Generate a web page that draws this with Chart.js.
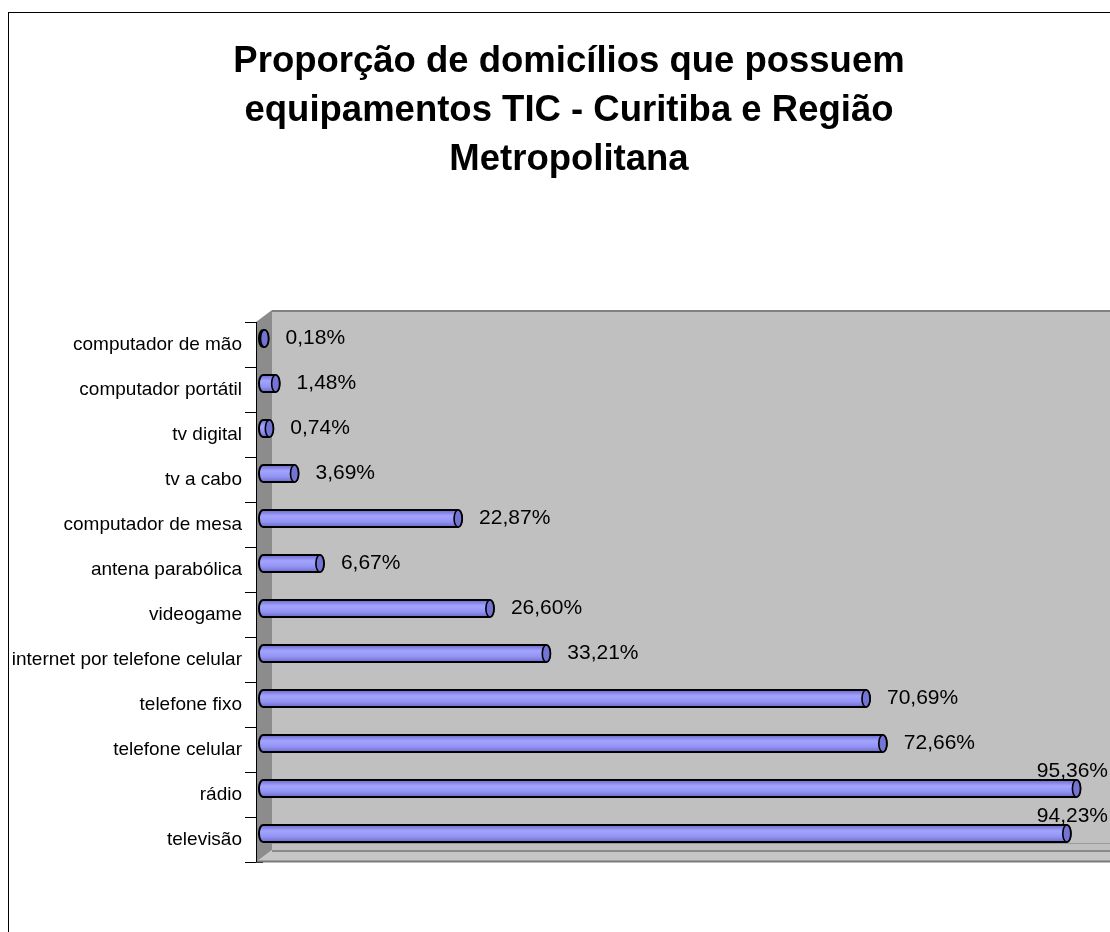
<!DOCTYPE html>
<html>
<head>
<meta charset="utf-8">
<script src="https://cdn.jsdelivr.net/npm/chart.js@4.4.1/dist/chart.umd.min.js"></script>
<style>
    html, body { margin: 0; padding: 0; background: #fff; overflow: hidden; }
    #wrap { position: relative; width: 1140px; height: 932px; }
</style>
</head>
<body>
<div id="wrap"><canvas id="chart"></canvas></div>
<script>
// Chart data
const titleLines = [
    'Proporção de domicílios que possuem',
    'equipamentos TIC - Curitiba e Região',
    'Metropolitana'
];
const categories = [
    'computador de mão',
    'computador portátil',
    'tv digital',
    'tv a cabo',
    'computador de mesa',
    'antena parabólica',
    'videogame',
    'internet por telefone celular',
    'telefone fixo',
    'telefone celular',
    'rádio',
    'televisão'
];
const values = [0.18, 1.48, 0.74, 3.69, 22.87, 6.67, 26.60, 33.21, 70.69, 72.66, 95.36, 94.23];
const xMin = 0;
const xMax = 100;

const FONT = '"Liberation Sans", Arial, sans-serif';
const VIEW_W = 1110;
const BAR_DY = -6;   // bars sit half way into the 3D depth

function fmtPct(v) {
    return v.toFixed(2).replace('.', ',') + '%';
}

// white page + outer frame, title centred on the whole frame
const framePlugin = {
    id: 'frame',
    afterLayout(chart) {
        if (chart.titleBlock) chart.titleBlock.left = 22;
    },
    beforeDraw(chart) {
        const ctx = chart.ctx;
        ctx.save();
        ctx.fillStyle = '#fff';
        ctx.fillRect(0, 0, chart.width, chart.height);
        ctx.strokeStyle = '#000';
        ctx.lineWidth = 1;
        ctx.strokeRect(8.5, 12.5, 2000, 2000);
        ctx.restore();
    }
};

// 3D walls and floor behind the bars
const wallsPlugin = {
    id: 'walls',
    beforeDatasetsDraw(chart) {
        const { ctx, chartArea } = chart;
        const { left, top, bottom } = chartArea;
        const W = chart.width;
        const fx = left - 7, bx = left + 9, d = 12;
        ctx.save();
        // back wall
        ctx.fillStyle = '#c0c0c0';
        ctx.fillRect(bx, top - d, W - bx, bottom - top);
        ctx.strokeStyle = '#808080';
        ctx.lineWidth = 2;
        ctx.beginPath();
        ctx.moveTo(bx, top - d + 1);
        ctx.lineTo(W, top - d + 1);
        ctx.stroke();
        // floor
        ctx.fillStyle = '#c6c6c6';
        ctx.beginPath();
        ctx.moveTo(fx, bottom);
        ctx.lineTo(bx, bottom - d);
        ctx.lineTo(W, bottom - d);
        ctx.lineTo(W, bottom);
        ctx.closePath();
        ctx.fill();
        ctx.strokeStyle = '#9a9a9a';
        ctx.lineWidth = 1;
        ctx.beginPath();
        ctx.moveTo(bx, bottom - d - 6.5);
        ctx.lineTo(W, bottom - d - 6.5);
        ctx.stroke();
        ctx.strokeStyle = '#8a8a8a';
        ctx.lineWidth = 2;
        ctx.beginPath();
        ctx.moveTo(bx, bottom - d + 1);
        ctx.lineTo(W, bottom - d + 1);
        ctx.stroke();
        ctx.strokeStyle = '#7a7a7a';
        ctx.beginPath();
        ctx.moveTo(fx, bottom - 0.5);
        ctx.lineTo(W, bottom - 0.5);
        ctx.stroke();
        // side wall
        ctx.fillStyle = '#8c8c8c';
        ctx.beginPath();
        ctx.moveTo(fx, top);
        ctx.lineTo(bx, top - d);
        ctx.lineTo(bx, bottom - d);
        ctx.lineTo(fx, bottom);
        ctx.closePath();
        ctx.fill();
        // axis line
        ctx.strokeStyle = '#000';
        ctx.lineWidth = 1;
        ctx.beginPath();
        ctx.moveTo(fx + 0.5, top);
        ctx.lineTo(fx + 0.5, bottom);
        ctx.stroke();
        ctx.restore();
    }
};

// cylinders and value labels
const cylinderPlugin = {
    id: 'cylinders',
    afterDatasetsDraw(chart) {
        const ctx = chart.ctx;
        const meta = chart.getDatasetMeta(0);
        ctx.save();
        meta.data.forEach((bar, i) => {
            const p = bar.getProps(['x', 'y', 'base', 'height'], true);
            const x = p.x, base = p.base, y = p.y + BAR_DY;
            const h = p.height, ry = h / 2, rx = 4;
            const top = y - ry, bot = y + ry;

            const grad = ctx.createLinearGradient(0, top, 0, bot);
            grad.addColorStop(0, '#6a6acc');
            grad.addColorStop(0.35, '#a4a4ff');
            grad.addColorStop(0.7, '#9292f2');
            grad.addColorStop(1, '#6a6acc');

            ctx.beginPath();
            ctx.moveTo(base, top);
            ctx.lineTo(x, top);
            ctx.ellipse(x, y, rx, ry, 0, -Math.PI / 2, Math.PI / 2);
            ctx.lineTo(base, bot);
            ctx.ellipse(base, y, rx, ry, 0, Math.PI / 2, Math.PI * 1.5);
            ctx.closePath();
            ctx.fillStyle = grad;
            ctx.fill();
            ctx.strokeStyle = '#000';
            ctx.lineWidth = 2;
            ctx.stroke();

            // end face
            ctx.beginPath();
            ctx.ellipse(x, y, rx, ry, 0, 0, Math.PI * 2);
            ctx.fillStyle = '#7474d4';
            ctx.fill();
            ctx.lineWidth = 1.6;
            ctx.stroke();

            // label
            const txt = fmtPct(values[i]);
            ctx.font = '21px ' + FONT;
            ctx.fillStyle = '#000';
            ctx.textAlign = 'left';
            ctx.textBaseline = 'middle';
            const w = ctx.measureText(txt).width;
            let lx = x + 21, ly = y;
            if (lx + w > VIEW_W) {
                lx = Math.min(x - 28, VIEW_W - 2 - w);
                ly = y - 17;
            }
            ctx.fillText(txt, lx, ly);
        });
        ctx.restore();
    }
};

new Chart(document.getElementById('chart'), {
    type: 'bar',
    data: {
        labels: categories,
        datasets: [{
            data: values,
            backgroundColor: 'rgba(0,0,0,0)',
            borderWidth: 0,
            barThickness: 17
        }]
    },
    options: {
        indexAxis: 'y',
        responsive: true,
        maintainAspectRatio: false,
        animation: false,
        devicePixelRatio: 1,
        layout: { padding: { left: 8, right: 24, top: 0, bottom: 70 } },
        plugins: {
            legend: { display: false },
            tooltip: { enabled: false },
            title: {
                display: true,
                text: titleLines,
                color: '#000',
                font: { family: FONT, size: 36.5, weight: 'bold', lineHeight: 49 / 36.5 },
                padding: { top: 37.5, bottom: 137.5 }
            }
        },
        scales: {
            x: { display: false, min: xMin, max: xMax },
            y: {
                afterFit(scale) { scale.width = 255; },
                border: { display: false },
                grid: {
                    display: true,
                    offset: true,
                    drawOnChartArea: false,
                    drawTicks: true,
                    tickLength: 18,
                    color: '#000',
                    lineWidth: 1
                },
                ticks: {
                    autoSkip: false,
                    padding: 3,
                    color: '#000',
                    font: { family: FONT, size: 19 }
                }
            }
        }
    },
    plugins: [framePlugin, wallsPlugin, cylinderPlugin]
});
</script>
</body>
</html>
